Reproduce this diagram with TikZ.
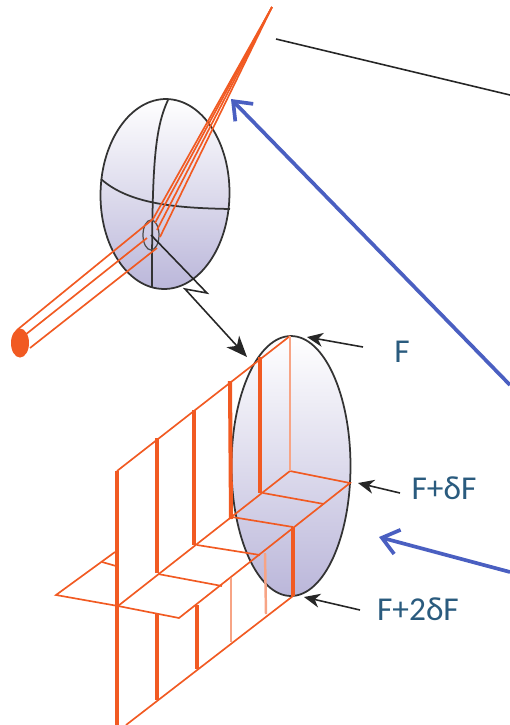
\documentclass[tikz,border=0pt]{standalone}
\usepackage{fontspec}
\setmainfont{Carlito}
\usetikzlibrary{arrows.meta,shapes.geometric}
\definecolor{wave}{HTML}{F15A22}
\definecolor{pointer}{HTML}{4A5FC1}
\definecolor{lenslow}{HTML}{BBB7DA}
\definecolor{labelink}{HTML}{2A5B7E}
\tikzset{
  lens/.style={ellipse, draw=black!80, line width=1pt, inner sep=0pt, outer sep=0pt, top color=white, bottom color=lenslow},
  ray/.style={wave, line width=0.95pt},
  crest/.style={wave, line width=2.3pt},
  fadedray/.style={wave!55, line width=1.4pt},
  grid/.style={black!80, line width=1pt},
  pointerarrow/.style={pointer, line width=2.1pt, -{Straight Barb[length=3.2mm,width=5mm,line width=2.1pt]}},
  tag/.style={black!85, line width=0.9pt, -{Stealth[length=3.2mm,width=2.8mm,inset=1mm]}},
  lbl/.style={font=\fontsize{19}{20}\selectfont, text=labelink, inner sep=0pt}
}
\begin{document}
\begin{tikzpicture}[x=0.02cm,y=-0.02cm]
  \useasboundingbox (0,0) rectangle (510,725);
  % lenses
  \node[lens, minimum width=25.8mm, minimum height=38mm, rotate=-1] (lensA) at (165,194) {};
  \node[lens, minimum width=23.8mm, minimum height=52mm] (lensB) at (291,466) {};
  % grid on the upper lens
  \draw[grid] (168,100) .. controls (154,130) and (152,170) .. (152,287);
  \draw[grid] (101,179) .. controls (130,205) and (180,208) .. (230,209);
  \node[draw=black!70, line width=0.7pt, ellipse, minimum width=3.2mm, minimum height=6mm, inner sep=0pt] (pupil) at (151,235) {};
  % beam
  \coordinate (focus) at (272,7);
  \node[ellipse, fill=wave, minimum width=3.6mm, minimum height=5.8mm, inner sep=0pt] (source) at (20,343) {};
  \foreach \a/\b in {17/330,25/335,30/348} \coordinate (s\a) at (\a,\b);
  \foreach \a/\b in {153/219,147/238,157/248} \coordinate (e\a) at (\a,\b);
  \draw[ray] (s17) -- (e153);
  \draw[ray] (s25) -- (e147);
  \draw[ray] (s30) -- (e157);
  \draw[ray] (e153) -- (focus);
  \foreach \a/\b in {155/223,157/230,160/237} { \coordinate (r\a) at (\a,\b); \draw[ray] (r\a) -- (focus); }
  % wave sheet, edges
  \foreach \n/\a/\b in {t/290/336,u/117/471,c/290/471,f/350/483,m/179/618,w/56/595,x/118/606,y/115/552,g/293/527,h/293/596,k/126/725}
    \coordinate (\n) at (\a,\b);
  \draw[ray] (t) -- (u);
  \draw[ray] (h) -- (k);
  \draw[ray] (c) -- (x) -- (w) -- (y);
  \draw[ray] (x) -- (m) -- (f) -- (c);
  % cross lines of the flat sheet
  \foreach \a/\b/\c/\d in {263/493/324/504,232/517/293/527,197/545/260/555,158/574/222/586,102/562/116/566} {
    \coordinate (pa) at (\a,\b); \coordinate (pb) at (\c,\d);
    \draw[ray] (pa) -- (pb);
  }
  % verticals
  \foreach \a/\b/\c/\d in {117/471/117/725,157/438/157/573,157/613/157/700,194/410/194/545,197/605/197/669,230/381/231/519,260/357/260/493,293/527/293/596} {
    \coordinate (pa) at (\a,\b); \coordinate (pb) at (\c,\d);
    \draw[crest] (pa) -- (pb);
  }
  \foreach \a/\b/\c/\d in {231/578/231/642,265/553/266/614,290/336/290/471} {
    \coordinate (pa) at (\a,\b); \coordinate (pb) at (\c,\d);
    \draw[fadedray] (pa) -- (pb);
  }
  % link between the lenses
  \coordinate (kinkA) at (207,293);
  \coordinate (kinkB) at (185,289);
  \coordinate (linkEnd) at (247,357);
  \draw[black!85, line width=0.9pt, -{Stealth[length=4.2mm,width=3.4mm,inset=1.2mm]}] (pupil.center) -- (kinkA) -- (kinkB) -- (linkEnd);
  % top line
  \coordinate (topA) at (276,39);
  \coordinate (topB) at (510,95);
  \draw[black!85, line width=0.9pt] (topA) -- (topB);
  % labels
  \node[lbl] (lblF) at (402,352) {F};
  \node[lbl] (lblFd) at (444,488) {F+δF};
  \node[lbl] (lblFdd) at (418,609) {F+2δF};
  \coordinate (tagF) at (363,347);
  \coordinate (tipF) at (307,337);
  \coordinate (tagFd) at (400,493);
  \coordinate (tipFd) at (358,483);
  \coordinate (tagFdd) at (360,610);
  \coordinate (tipFdd) at (304,597);
  \draw[tag] (tagF) -- (tipF);
  \draw[tag] (tagFd) -- (tipFd);
  \draw[tag] (tagFdd) -- (tipFdd);
  % blue pointers
  \coordinate (blueA) at (510,385);
  \coordinate (blueAtip) at (231,99);
  \coordinate (blueB) at (510,572);
  \coordinate (blueBtip) at (379,537);
  \draw[pointerarrow] (blueA) -- (blueAtip);
  \draw[pointerarrow] (blueB) -- (blueBtip);
\end{tikzpicture}
\end{document}
